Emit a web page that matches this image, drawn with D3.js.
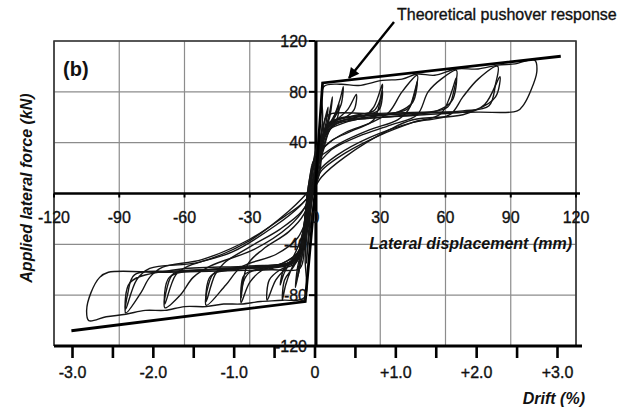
<!DOCTYPE html>
<html>
<head>
<meta charset="utf-8">
<script src="https://cdn.jsdelivr.net/npm/d3@7"></script>
<style>
  body { margin: 0; background: #fff; }
  svg text { font-family: "Liberation Sans", Arial, sans-serif; fill: #111; }
  svg text.plain { stroke: #111; stroke-width: 0.35px; }
</style>
</head>
<body>
<div id="chart"></div>
<script>
// tick values
var xTicks = [-120, -90, -60, -30, 0, 30, 60, 90, 120];
var yTicks = [-120, -80, -40, 0, 40, 80, 120];
var yLabels = [120, 80, 40, -40, -80, -120];
var driftTicks = [-3.0, -2.5, -2.0, -1.5, -1.0, -0.5, 0, 0.5, 1.0, 1.5, 2.0, 2.5, 3.0];
var driftLabels = [-3.0, -2.0, -1.0, 0, 1.0, 2.0, 3.0];

// theoretical pushover response [displacement mm, force kN]
var pushoverPos = [[0, 0], [3.5, 87], [113, 108]];
var pushoverNeg = [[0, 0], [-4.5, -85], [-112, -108]];

// test cycles [displacement mm, force kN]
var cycle1 = [[0,0],[1,22],[2.5,42],[3.5,55],[2.5,40],[0.5,18],[-1,0],[-2.5,-22],[-3.5,-42],[-4,-55],[-3,-38],[-1.5,-18],[0,0]];
var cycle2 = [[-2,0],[0,20],[2,40],[4.5,58],[6,68],[5,55],[3,40],[0.5,18],[-1.5,0],[-3.5,-20],[-5,-40],[-7,-58],[-8,-66],[-7,-52],[-5,-35],[-3.5,-15],[-2,0]];
var cycle3 = [[0,0],[1.5,25],[4,45],[6.5,62],[8,76],[7,62],[4.5,46],[1.5,22],[-1,0],[-3,-25],[-5.5,-45],[-7.5,-62],[-9,-74],[-8,-58],[-5.5,-40],[-3.5,-18],[-2,0],[0,20]];
var cycle4 = [[-2.5,0],[-0.5,15],[1.5,32],[4,48],[9,60],[11,70],[10,58],[6,50],[3,36],[1,18],[-1.5,0],[-4,-18],[-6.5,-36],[-10,-50],[-14,-62],[-16,-72],[-14,-58],[-9,-50],[-6,-38],[-4.5,-18],[-2.5,0]];
var cycle5 = [[0,20],[2,38],[5,50],[9,62],[11.5,74],[13,84],[12,70],[9,60],[5,50],[2,32],[-0.5,10],[-2,0],[-4,-25],[-7,-46],[-11,-60],[-13.5,-72],[-15,-84],[-14,-68],[-10,-58],[-6,-44],[-4,-22],[-3,0],[-1,22]];
var cycle6 = [[-1,22],[1.5,38],[5,50],[10,58],[15,66],[19,78],[18,66],[14,60],[8,56],[4,44],[1.5,22],[-1,0],[-3.5,-26],[-7,-46],[-13,-58],[-18,-68],[-22,-84],[-21,-68],[-16,-60],[-9,-55],[-5.5,-42],[-4,-20],[-2.5,0],[-1,22]];
var cycle7 = [[-1,22],[1.5,40],[6,50],[14,56],[22,60],[27,68],[31,86],[30,74],[27,65],[20,62],[12,59],[6,55],[3,40],[0.5,18],[-1.5,0],[-3.5,-24],[-7,-45],[-15,-55],[-24,-60],[-30,-70],[-34,-86],[-33,-70],[-30,-62],[-20,-59],[-10,-55],[-6,-45],[-4.5,-22],[-3.5,0],[-1.5,22]];
var cycle8 = [[-1.5,22],[2,32],[8,42],[18,50],[27,58],[31,81],[29.5,66],[24,62],[14,58],[7,54],[3,38],[0.5,15],[-2,0],[-5,-16],[-12,-30],[-24,-44],[-31,-56],[-34,-82],[-32.5,-64],[-22,-58],[-10,-53],[-5.5,-36],[-4,-14],[-3,0],[-1,20]];
var cycle9 = [[-1,20],[1,28],[5,38],[14,48],[26,56],[34,64],[40,80],[47,93],[46,80],[43,67],[35,63],[22,61],[10,58],[5,50],[2,30],[-0.5,8],[-2.5,-10],[-4,-20],[-8,-35],[-18,-48],[-34,-58],[-41,-72],[-50,-88],[-49,-72],[-46,-62],[-32,-59],[-16,-57],[-8,-50],[-5,-30],[-3.5,0],[-1,25]];
var cycle10 = [[-1,25],[3,30],[12,40],[25,50],[38,58],[43,66],[47,88],[45,72],[38,64],[24,60],[12,57],[5,46],[1.5,24],[-1.5,0],[-6,-14],[-16,-28],[-30,-42],[-42,-55],[-46,-64],[-50,-85],[-48,-65],[-34,-59],[-15,-55],[-7,-44],[-4.5,-18],[-2.5,0],[-0.5,22]];
var cycle11 = [[-0.5,22],[2,25],[8,35],[20,45],[35,54],[47,62],[52,80],[58,90],[65,97],[64,82],[61,68],[52,64],[34,62],[16,60],[6,55],[2,32],[-1,6],[-5,-12],[-12,-26],[-28,-44],[-48,-57],[-56,-66],[-62,-80],[-69,-90],[-68,-74],[-65,-63],[-48,-60],[-26,-58],[-10,-54],[-5.5,-36],[-4,-10],[-3,0]];
var cycle12 = [[-3,0],[0,8],[3,18],[14,32],[30,46],[45,56],[58,63],[65,91],[63,73],[56,65],[38,61],[18,58],[8,53],[3,32],[0,8],[-2,0],[-7,-10],[-18,-25],[-38,-46],[-58,-57],[-64,-64],[-69,-87],[-67,-66],[-50,-60],[-24,-57],[-9,-52],[-5.5,-30],[-3.5,0]];
var cycle13 = [[-3.5,0],[0,6],[2,18],[10,30],[25,44],[45,56],[62,62],[68,76],[75,90],[84,100],[83,86],[80,69],[68,65],[44,63],[20,61],[8,57],[3,36],[0,8],[-2,0],[-6,-8],[-14,-18],[-30,-36],[-52,-52],[-70,-58],[-76,-66],[-80,-78],[-87,-94],[-86,-78],[-83,-64],[-64,-61],[-36,-59],[-14,-56],[-6.5,-44],[-4.5,-16],[-3,0]];
var cycle14 = [[-3,0],[-0.5,4],[3,13],[14,29],[34,50],[45,58],[68,62],[78,70],[85,92],[83,76],[74,66],[50,62],[24,59],[9,55],[3.5,32],[0.5,10],[-3,2],[-6,-4],[-11.5,-13],[-30,-37],[-53,-54],[-76,-59],[-82,-68],[-87,-91],[-85,-70],[-64,-60],[-30,-57],[-10,-53],[-5.5,-30],[-3.5,0]];
var cycle15 = [[0,25],[2.5,40],[3.5,60],[4,84],[12,86],[20,85],[31,89],[40,90],[47,94],[55,93],[65,98],[75,98],[84,101],[92,102],[101,105],[102,96],[99,80],[96,70],[93,65],[75,64],[50,64],[25,63],[8,63],[5,60],[3.5,40],[2,15],[-1,0],[-3,-20],[-4.5,-50],[-5,-82],[-15,-84],[-25,-85],[-34,-87],[-42,-87],[-50,-89],[-60,-89],[-69,-92],[-78,-92],[-87,-95],[-96,-97],[-104,-100],[-105,-92],[-103,-78],[-99,-66],[-95,-62],[-70,-62],[-45,-61],[-20,-60],[-7,-59],[-5,-45],[-4,-20],[-2,0]];
var cycles = [cycle1, cycle2, cycle3, cycle4, cycle5, cycle6, cycle7, cycle8, cycle9, cycle10, cycle11, cycle12, cycle13, cycle14, cycle15];

var width = 625, height = 409;
var plot = {left: 54, right: 576, top: 41, bottom: 346};

var x = d3.scaleLinear().domain([-120, 120]).range([plot.left, plot.right]);
var y = d3.scaleLinear().domain([-120, 120]).range([plot.bottom, plot.top]);
var drift = d3.scaleLinear().domain([-3, 3]).range([72.5, 557.5]);

var svg = d3.select('#chart').append('svg').attr('width', width).attr('height', height);

// grid
svg.append('g').selectAll('line').data(xTicks).enter().append('line')
    .attr('x1', function (d) { return x(d); }).attr('x2', function (d) { return x(d); })
    .attr('y1', plot.top).attr('y2', plot.bottom)
    .style('stroke', '#8c8c8c').style('stroke-width', 1.2);
svg.append('g').selectAll('line').data(yTicks).enter().append('line')
    .attr('x1', plot.left).attr('x2', plot.right)
    .attr('y1', function (d) { return y(d); }).attr('y2', function (d) { return y(d); })
    .style('stroke', '#8c8c8c').style('stroke-width', 1.2);

// frame
svg.append('path')
    .attr('d', 'M' + x(-120) + ',' + y(-120) + 'V' + y(120) + 'H' + x(120) + 'V' + y(-120))
    .style('fill', 'none').style('stroke', '#333').style('stroke-width', 1.6);

// axes through the origin
svg.append('line').attr('x1', x(-120)).attr('x2', x(120) + 4).attr('y1', y(0)).attr('y2', y(0))
    .style('stroke', '#000').style('stroke-width', 2.6);
svg.append('g').selectAll('line').data(xTicks).enter().append('line')
    .attr('x1', function (d) { return x(d); }).attr('x2', function (d) { return x(d); })
    .attr('y1', y(0)).attr('y2', y(0) + 4)
    .style('stroke', '#000').style('stroke-width', 2);
svg.append('line').attr('x1', x(0) + 1).attr('x2', x(0) + 1).attr('y1', y(120)).attr('y2', y(-120))
    .style('stroke', '#000').style('stroke-width', 3);
svg.append('g').selectAll('line').data(yTicks).enter().append('line')
    .attr('x1', x(0) - 6).attr('x2', x(0))
    .attr('y1', function (d) { return y(d); }).attr('y2', function (d) { return y(d); })
    .style('stroke', '#000').style('stroke-width', 2);

// drift axis at the bottom
svg.append('line').attr('x1', x(-120)).attr('x2', x(120) + 6).attr('y1', plot.bottom).attr('y2', plot.bottom)
    .style('stroke', '#000').style('stroke-width', 2.8);
svg.append('g').selectAll('line').data(driftTicks).enter().append('line')
    .attr('x1', function (d) { return drift(d); }).attr('x2', function (d) { return drift(d); })
    .attr('y1', plot.bottom).attr('y2', plot.bottom + 12)
    .style('stroke', '#000').style('stroke-width', 2.6);

// hysteresis loops
var line = d3.line()
    .x(function (d) { return x(d[0]); })
    .y(function (d) { return y(d[1]); })
    .curve(d3.curveCatmullRom.alpha(0.5));
svg.append('g').selectAll('path').data(cycles).enter().append('path')
    .attr('d', line)
    .style('fill', 'none').style('stroke', '#151515').style('stroke-width', 1.4);

// theoretical pushover response
var straight = d3.line()
    .x(function (d) { return x(d[0]); })
    .y(function (d) { return y(d[1]); });
svg.append('g').selectAll('path').data([pushoverPos, pushoverNeg]).enter().append('path')
    .attr('d', straight)
    .style('fill', 'none').style('stroke', '#000').style('stroke-width', 2.8);

// tick labels
svg.append('g').selectAll('text').data(xTicks).enter().append('text')
    .attr('class', 'plain')
    .attr('x', function (d) { return x(d); }).attr('y', 222.5)
    .style('text-anchor', 'middle').style('font-size', '16px')
    .text(function (d) { return d; });
svg.append('g').selectAll('text').data(yLabels).enter().append('text')
    .attr('class', 'plain')
    .attr('x', x(0) - 8).attr('y', function (d) { return y(d) + 5.7; })
    .style('text-anchor', 'end').style('font-size', '16px')
    .text(function (d) { return d; });
svg.append('g').selectAll('text').data(driftLabels).enter().append('text')
    .attr('class', 'plain')
    .attr('x', function (d) { return drift(d); }).attr('y', 377.5)
    .style('text-anchor', 'middle').style('font-size', '16px')
    .text(function (d) { return d === 0 ? '0' : (d > 0 ? '+' : '') + d.toFixed(1); });

// titles
svg.append('text').attr('x', 572).attr('y', 249)
    .style('text-anchor', 'end').style('font-size', '16px').style('font-weight', 'bold').style('font-style', 'italic')
    .text('Lateral displacement (mm)');
svg.append('text').attr('x', 585).attr('y', 404)
    .style('text-anchor', 'end').style('font-size', '16px').style('font-weight', 'bold').style('font-style', 'italic')
    .text('Drift (%)');
svg.append('text').attr('transform', 'translate(32,188) rotate(-90)')
    .style('text-anchor', 'middle').style('font-size', '16px').style('font-weight', 'bold').style('font-style', 'italic')
    .text('Applied lateral force (kN)');
svg.append('text').attr('x', 63).attr('y', 76)
    .style('font-size', '20px').style('font-weight', 'bold')
    .text('(b)');

// annotation
svg.append('defs').append('marker')
    .attr('id', 'head').attr('viewBox', '0 0 10 10').attr('refX', 9).attr('refY', 5)
    .attr('markerWidth', 5).attr('markerHeight', 4.5).attr('orient', 'auto')
    .append('path').attr('d', 'M0,0L10,5L0,10Z').style('fill', '#000');
svg.append('line').attr('x1', 394).attr('y1', 22).attr('x2', 349).attr('y2', 78)
    .style('stroke', '#000').style('stroke-width', 2.4).attr('marker-end', 'url(#head)');
svg.append('text').attr('class', 'plain').attr('x', 397).attr('y', 20)
    .style('font-size', '16px')
    .text('Theoretical pushover response');
</script>
</body>
</html>
